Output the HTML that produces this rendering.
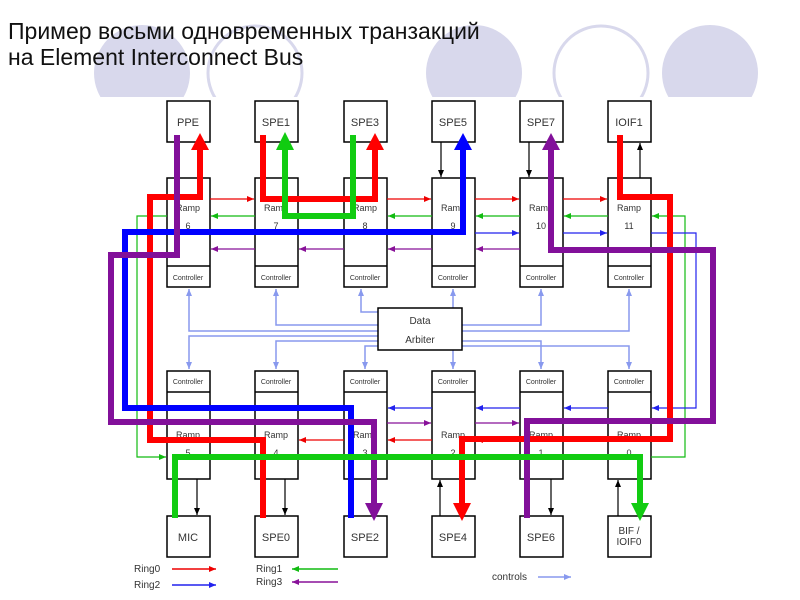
<!DOCTYPE html>
<html><head><meta charset="utf-8"><style>
html,body{margin:0;padding:0;background:#fff;}
svg{display:block;}
text{font-family:"Liberation Sans",Arial,sans-serif;}
</style></head><body>
<svg width="800" height="600" viewBox="0 0 800 600" xmlns="http://www.w3.org/2000/svg">
<defs>
<clipPath id="cc"><rect x="0" y="0" width="800" height="97"/></clipPath>
<marker id="ar" markerWidth="8" markerHeight="8" refX="7" refY="4" orient="auto" markerUnits="userSpaceOnUse"><path d="M0,1 L7,4 L0,7z" fill="#e00"/></marker>
<marker id="ag" markerWidth="8" markerHeight="8" refX="7" refY="4" orient="auto" markerUnits="userSpaceOnUse"><path d="M0,1 L7,4 L0,7z" fill="#1b1"/></marker>
<marker id="ab" markerWidth="8" markerHeight="8" refX="7" refY="4" orient="auto" markerUnits="userSpaceOnUse"><path d="M0,1 L7,4 L0,7z" fill="#22e"/></marker>
<marker id="ap" markerWidth="8" markerHeight="8" refX="7" refY="4" orient="auto" markerUnits="userSpaceOnUse"><path d="M0,1 L7,4 L0,7z" fill="#819"/></marker>
<marker id="ak" markerWidth="8" markerHeight="8" refX="7" refY="4" orient="auto" markerUnits="userSpaceOnUse"><path d="M0,1 L7,4 L0,7z" fill="#000"/></marker>
<marker id="al" markerWidth="8" markerHeight="8" refX="7" refY="4" orient="auto" markerUnits="userSpaceOnUse"><path d="M0,1 L7,4 L0,7z" fill="#8899ee"/></marker>
</defs>
<g clip-path="url(#cc)">
<circle cx="142" cy="73" r="48" fill="#d8d8ec"/>
<circle cx="255" cy="73" r="47" fill="none" stroke="#d8d8ec" stroke-width="3"/>
<circle cx="474" cy="73" r="48" fill="#d8d8ec"/>
<circle cx="601" cy="73" r="47" fill="none" stroke="#d8d8ec" stroke-width="3"/>
<circle cx="710" cy="73" r="48" fill="#d8d8ec"/>
</g>
<text x="8" y="39" font-size="23" fill="#111">Пример восьми одновременных транзакций</text>
<text x="8" y="65" font-size="23" fill="#111">на Element Interconnect Bus</text>

<!-- arbiter lines -->
<g stroke="#8899ee" stroke-width="1.5" fill="none" marker-end="url(#al)">
<path d="M378,331 H189 V289"/><path d="M378,325 H276 V289"/><path d="M378,312 H361 V289"/>
<path d="M453,308 V289"/><path d="M462,325 H541 V289"/><path d="M462,331 H629 V289"/>
<path d="M378,336 H189 V369"/><path d="M378,341 H276 V369"/><path d="M378,346 H365 V369"/>
<path d="M453,350 V369"/><path d="M462,341 H541 V369"/><path d="M462,346 H629 V369"/>
</g>
<rect x="378" y="308" width="84" height="42" fill="#fff" stroke="#000" stroke-width="1.5"/>
<text x="420" y="324" font-size="10" text-anchor="middle" fill="#333">Data</text>
<text x="420" y="343" font-size="10" text-anchor="middle" fill="#333">Arbiter</text>

<!-- boxes -->
<g fill="#fff" stroke="#000" stroke-width="1.5">
<rect x="167" y="101" width="43" height="41"/><rect x="255" y="101" width="43" height="41"/><rect x="344" y="101" width="43" height="41"/><rect x="432" y="101" width="43" height="41"/><rect x="520" y="101" width="43" height="41"/><rect x="608" y="101" width="43" height="41"/>
<rect x="167" y="178" width="43" height="109"/><rect x="255" y="178" width="43" height="109"/><rect x="344" y="178" width="43" height="109"/><rect x="432" y="178" width="43" height="109"/><rect x="520" y="178" width="43" height="109"/><rect x="608" y="178" width="43" height="109"/>
<rect x="167" y="371" width="43" height="108"/><rect x="255" y="371" width="43" height="108"/><rect x="344" y="371" width="43" height="108"/><rect x="432" y="371" width="43" height="108"/><rect x="520" y="371" width="43" height="108"/><rect x="608" y="371" width="43" height="108"/>
<rect x="167" y="516" width="43" height="41"/><rect x="255" y="516" width="43" height="41"/><rect x="344" y="516" width="43" height="41"/><rect x="432" y="516" width="43" height="41"/><rect x="520" y="516" width="43" height="41"/><rect x="608" y="516" width="43" height="41"/>
</g>
<g stroke="#000" stroke-width="1.5">
<path d="M167,266h43M255,266h43M344,266h43M432,266h43M520,266h43M608,266h43"/>
<path d="M167,392h43M255,392h43M344,392h43M432,392h43M520,392h43M608,392h43"/>
</g>
<g font-size="11" text-anchor="middle" fill="#333">
<text x="188" y="126">PPE</text><text x="276" y="126">SPE1</text><text x="365" y="126">SPE3</text><text x="453" y="126">SPE5</text><text x="541" y="126">SPE7</text><text x="629" y="126">IOIF1</text>
<text x="188" y="541">MIC</text><text x="276" y="541">SPE0</text><text x="365" y="541">SPE2</text><text x="453" y="541">SPE4</text><text x="541" y="541">SPE6</text>
<text x="629" y="534" font-size="10">BIF /</text><text x="629" y="545" font-size="10">IOIF0</text>
</g>
<g font-size="7" text-anchor="middle" fill="#333">
<text x="188" y="280">Controller</text><text x="276" y="280">Controller</text><text x="365" y="280">Controller</text><text x="453" y="280">Controller</text><text x="541" y="280">Controller</text><text x="629" y="280">Controller</text>
<text x="188" y="384">Controller</text><text x="276" y="384">Controller</text><text x="365" y="384">Controller</text><text x="453" y="384">Controller</text><text x="541" y="384">Controller</text><text x="629" y="384">Controller</text>
</g>
<g font-size="9" text-anchor="middle" fill="#333">
<text x="188" y="211">Ramp</text><text x="276" y="211">Ramp</text><text x="365" y="211">Ramp</text><text x="453" y="211">Ramp</text><text x="541" y="211">Ramp</text><text x="629" y="211">Ramp</text>
<text x="188" y="229">6</text><text x="276" y="229">7</text><text x="365" y="229">8</text><text x="453" y="229">9</text><text x="541" y="229">10</text><text x="629" y="229">11</text>
<text x="188" y="438">Ramp</text><text x="276" y="438">Ramp</text><text x="365" y="438">Ramp</text><text x="453" y="438">Ramp</text><text x="541" y="438">Ramp</text><text x="629" y="438">Ramp</text>
<text x="188" y="456">5</text><text x="276" y="456">4</text><text x="365" y="456">3</text><text x="453" y="456">2</text><text x="541" y="456">1</text><text x="629" y="456">0</text>
</g>

<!-- black arrows -->
<g stroke="#000" stroke-width="1.2" marker-end="url(#ak)">
<path d="M441,142V177"/><path d="M529,142V177"/><path d="M640,178V143"/>
<path d="M197,479V515"/><path d="M285,479V515"/><path d="M440,516V480"/><path d="M551,479V515"/><path d="M618,516V480"/>
</g>

<!-- thin ring arrows -->
<g stroke-width="1.2" fill="none">
<g stroke="#e00" marker-end="url(#ar)"><path d="M210,199H254"/><path d="M298,199H343"/><path d="M387,199H431"/><path d="M475,199H519"/><path d="M563,199H607"/>
<path d="M344,440H299"/><path d="M432,440H388"/><path d="M520,440H476"/></g>
<g stroke="#1b1" marker-end="url(#ag)"><path d="M255,216H211"/><path d="M344,216H299"/><path d="M432,216H388"/><path d="M520,216H476"/><path d="M608,216H564"/>
<path d="M167,216H137V457H166"/><path d="M651,457H685V216H652"/></g>
<g stroke="#22e" marker-end="url(#ab)"><path d="M475,233H519"/><path d="M563,233H607"/><path d="M651,233H696V408H652"/>
<path d="M432,408H388"/><path d="M520,408H476"/><path d="M608,408H564"/></g>
<g stroke="#819" marker-end="url(#ap)"><path d="M255,249H211"/><path d="M344,249H299"/><path d="M432,249H388"/><path d="M520,249H476"/>
<path d="M387,423H431"/><path d="M475,423H519"/></g>
</g>

<!-- thick transactions -->
<g stroke-width="6" fill="none" stroke-linejoin="miter">
<path d="M263,518V440H150V197H200V148" stroke="#f00"/>
<path d="M263,135V199H375V148" stroke="#f00"/>
<path d="M353,135V216H285V148" stroke="#1c1"/>
<path d="M351,518V408H125V232H463V148" stroke="#00f"/>
<path d="M177,135V255H111V422H374V505" stroke="#82109a"/>
<path d="M620,135V197H670V439H462V505" stroke="#f00"/>
<path d="M527,518V421H713V250H551V148" stroke="#82109a"/>
<path d="M175,518V457H640V505" stroke="#1c1"/>
</g>
<g>
<path d="M191,150L200,133L209,150z" fill="#f00"/>
<path d="M366,150L375,133L384,150z" fill="#f00"/>
<path d="M276,150L285,132L294,150z" fill="#1c1"/>
<path d="M454,150L463,133L472,150z" fill="#00f"/>
<path d="M542,150L551,133L560,150z" fill="#82109a"/>
<path d="M365,503L374,521L383,503z" fill="#82109a"/>
<path d="M453,503L462,521L471,503z" fill="#f00"/>
<path d="M631,503L640,521L649,503z" fill="#1c1"/>
</g>

<!-- legend -->
<g font-size="10" fill="#333">
<text x="134" y="572">Ring0</text><text x="134" y="588">Ring2</text>
<text x="256" y="572">Ring1</text><text x="256" y="585">Ring3</text>
<text x="492" y="580">controls</text>
</g>
<g stroke-width="1.5">
<path d="M172,569H216" stroke="#e00" marker-end="url(#ar)"/>
<path d="M172,585H216" stroke="#22e" marker-end="url(#ab)"/>
<path d="M338,569H292" stroke="#1b1" marker-end="url(#ag)"/>
<path d="M338,582H292" stroke="#819" marker-end="url(#ap)"/>
<path d="M538,577H571" stroke="#8899ee" marker-end="url(#al)"/>
</g>
</svg>
</body></html>
